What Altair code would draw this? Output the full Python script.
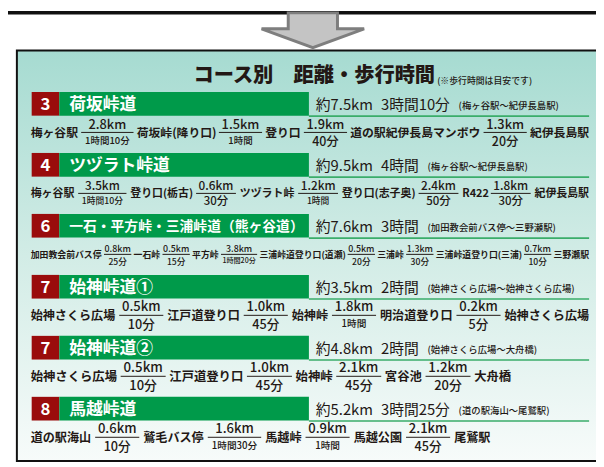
import altair as alt
import pandas as pd

# ---------------- data ----------------
title_main = "コース別　距離・歩行時間"
title_note = "(※歩行時間は目安です)"

course_no = ["3", "4", "6", "7", "7", "8"]
course_name = ["荷坂峠道", "ツヅラト峠道", "一石・平方峠・三浦峠道（熊ヶ谷道）",
               "始神峠道①", "始神峠道②", "馬越峠道"]
course_dist = ["約7.5km", "約9.5km", "約7.6km", "約3.5km", "約4.8km", "約5.2km"]
course_time = ["3時間10分", "4時間", "3時間", "2時間", "2時間", "3時間25分"]
course_route = ["(梅ヶ谷駅〜紀伊長島駅)", "(梅ヶ谷駅〜紀伊長島駅)",
                "(加田教会前バス停〜三野瀬駅)", "(始神さくら広場〜始神さくら広場)",
                "(始神さくら広場〜大舟橋)", "(道の駅海山〜尾鷲駅)"]

stops = [
    ["梅ヶ谷駅", "荷坂峠(降り口)", "登り口", "道の駅紀伊長島マンボウ", "紀伊長島駅"],
    ["梅ヶ谷駅", "登り口(栃古)", "ツヅラト峠", "登り口(志子奥)", "R422", "紀伊長島駅"],
    ["加田教会前バス停", "一石峠", "平方峠", "三浦峠道登り口(道瀬)", "三浦峠",
     "三浦峠道登り口(三浦)", "三野瀬駅"],
    ["始神さくら広場", "江戸道登り口", "始神峠", "明治道登り口", "始神さくら広場"],
    ["始神さくら広場", "江戸道登り口", "始神峠", "宮谷池", "大舟橋"],
    ["道の駅海山", "鷲毛バス停", "馬越峠", "馬越公園", "尾鷲駅"],
]
seg_km = [
    ["2.8km", "1.5km", "1.9km", "1.3km"],
    ["3.5km", "0.6km", "1.2km", "2.4km", "1.8km"],
    ["0.8km", "0.5km", "3.8km", "0.5km", "1.3km", "0.7km"],
    ["0.5km", "1.0km", "1.8km", "0.2km"],
    ["0.5km", "1.0km", "2.1km", "1.2km"],
    ["0.6km", "1.6km", "0.9km", "2.1km"],
]
seg_time = [
    ["1時間10分", "1時間", "40分", "20分"],
    ["1時間10分", "30分", "1時間", "50分", "30分"],
    ["25分", "15分", "1時間20分", "20分", "30分", "10分"],
    ["10分", "45分", "1時間", "5分"],
    ["10分", "45分", "45分", "20分"],
    ["10分", "1時間30分", "1時間", "45分"],
]

# ---------------- layout & style ----------------
W, H, M = 604, 467, 8
FONT = "Noto Sans CJK JP"
INK = "#231815"
RED = "#9a0c0c"
GREEN = "#009a4a"
LINE_GREEN = "#3aad6a"

BOX = dict(x=17, x2=640, y=48, y2=464)
HEAD_Y0, HEAD_STEP = 102, 61.8
BADGE_X, BADGE_X2, BAR_X2, BAR_H = 32, 60, 313, 24
RULE_X2 = 597
NAME_X = 70
DIST_X, TIME_X = 320, 386
ROW_LEFT = 31
ROW_RIGHT = [597, 597, 597, 597, 518, 497]
ROW_FS = [12, 12, 9, 12.5, 12.5, 12.5]
NUM_SCALE = [1.08, 1.08, 1.0, 1.08, 1.08, 1.08]
FRAC_PAD = [0.7, 0.7, 0.35, 0.7, 0.7, 0.7]
MIN_GAP = [3, 3, 1.5, 3, 3, 3]


def em(c):
    if c.isdigit():
        return 0.55
    if c == ".":
        return 0.27
    if c == "k":
        return 0.52
    if c == "m":
        return 0.84
    if c == "R":
        return 0.62
    if c in "()":
        return 0.34
    if ord(c) < 128:
        return 0.55
    return 1.0


def tw(s, fs):
    return sum(em(c) for c in s) * fs


xs = alt.Scale(domain=[M, W], nice=False, zero=False)
ys = alt.Scale(domain=[M, H], nice=False, zero=False, reverse=True)


def X(f):
    return alt.X(f, type="quantitative", scale=xs, axis=None)


def Y(f):
    return alt.Y(f, type="quantitative", scale=ys, axis=None)


def row_items(i, fs):
    items = []
    for j, s in enumerate(stops[i]):
        items.append(("n", s, tw(s, fs), fs))
        if j < len(seg_km[i]):
            k, t = seg_km[i][j], seg_time[i][j]
            nfs = fs * NUM_SCALE[i]
            dfs = fs * 0.8 if "時間" in t else fs * (NUM_SCALE[i] - 0.03)
            fw = max(tw(k, nfs), tw(t, dfs)) + FRAC_PAD[i] * fs
            items.append(("f", (k, t, nfs, dfs), fw, fs))
    return items


# ---------------- tables ----------------
heads = []
names = []
fracs = []
for i in range(len(course_no)):
    hy = HEAD_Y0 + HEAD_STEP * i
    tfs = min(17.0, (BAR_X2 - 5 - NAME_X) / (tw(course_name[i], 1)))
    heads.append(dict(
        no=course_no[i], name=course_name[i], dist=course_dist[i],
        time=course_time[i], route=course_route[i],
        y=hy, y1=hy - BAR_H / 2, y2=hy + BAR_H / 2, yr=hy + BAR_H / 2 + 0.5,
        bx=BADGE_X, bx2=BADGE_X2, gx2=BAR_X2, rx2=RULE_X2,
        nx=(BADGE_X + BADGE_X2) / 2, tx=NAME_X, tfs=tfs,
        dx=DIST_X, tmx=TIME_X, rtx=TIME_X + tw(course_time[i], 15) + 9,
    ))
    fs = ROW_FS[i]
    while True:
        items = row_items(i, fs)
        total = sum(it[2] for it in items)
        gap = (ROW_RIGHT[i] - ROW_LEFT - total) / (len(items) - 1)
        if gap >= MIN_GAP[i]:
            break
        fs *= 0.98
    ly = hy + 29
    x = ROW_LEFT
    for kind, val, w, f in items:
        if kind == "n":
            names.append(dict(x=x, y=ly + 1, text=val, fs=f))
        else:
            k, t, nfs, dfs = val
            fracs.append(dict(x1=x, x2=x + w, xc=x + w / 2, y=ly,
                              yn=ly - 0.6 * nfs, yd=ly + 0.62 * dfs + 2 + 0.25 * (f - dfs),
                              num=k, den=t, nfs=nfs, dfs=dfs))
        x += w + gap

heads = pd.DataFrame(heads)
names = pd.DataFrame(names)
fracs = pd.DataFrame(fracs)

# ---------------- marks ----------------
grad = alt.Gradient(
    gradient="linear", x1=0, x2=0, y1=0, y2=1,
    stops=[alt.GradientStop(color="#a6dbd1", offset=0),
           alt.GradientStop(color="#d2ece6", offset=0.5),
           alt.GradientStop(color="#f7fbfa", offset=1)],
)

box = alt.Chart(pd.DataFrame([BOX])).mark_rect(
    fill=grad, stroke="#111111", strokeWidth=2
).encode(x=X("x"), x2="x2", y=Y("y"), y2="y2")

top_bar = alt.Chart(pd.DataFrame([dict(x=M, x2=W, y=M, y2=M + 3.5)])).mark_rect(
    color="#111111"
).encode(x=X("x"), x2="x2", y=Y("y"), y2="y2")

ARROW = "M-0.48,-0.34L0.48,-0.34L0.48,-0.03L1,-0.03L0,0.34L-1,-0.03L-0.48,-0.03Z"
arrow = alt.Chart(pd.DataFrame([dict(x=317, y=27.5)])).mark_point(
    shape=ARROW, size=104 ** 2, filled=True, fill="#c4c4c4",
    stroke="#7e7e7e", strokeWidth=3, opacity=1
).encode(x=X("x"), y=Y("y"))

title = alt.Chart(pd.DataFrame([dict(x=196, y=74, t=title_main)])).mark_text(
    align="left", baseline="middle", font=FONT, fontSize=20.5, fontWeight=900, color=INK
).encode(x=X("x"), y=Y("y"), text="t:N")

note = alt.Chart(pd.DataFrame([dict(x=443, y=79, t=title_note)])).mark_text(
    align="left", baseline="middle", font=FONT, fontSize=9, fontWeight=500, color=INK
).encode(x=X("x"), y=Y("y"), text="t:N")

hbase = alt.Chart(heads)
badge = hbase.mark_rect(color=RED).encode(x=X("bx"), x2="bx2", y=Y("y1"), y2="y2")
bar = hbase.mark_rect(color=GREEN).encode(x=X("bx2"), x2="gx2", y=Y("y1"), y2="y2")
uline = hbase.mark_rule(color=LINE_GREEN, strokeWidth=1.6).encode(x=X("gx2"), x2="rx2", y=Y("yr"))
no_t = hbase.mark_text(align="center", baseline="middle", font=FONT, fontSize=17,
                       fontWeight="bold", color="white", dy=1).encode(x=X("nx"), y=Y("y"), text="no:N")
name_t = hbase.mark_text(align="left", baseline="middle", font=FONT, fontWeight="bold",
                         color="white", dy=1).encode(
    x=X("tx"), y=Y("y"), text="name:N", size=alt.Size("tfs:Q", scale=None))
dist_t = hbase.mark_text(align="left", baseline="middle", font=FONT, fontSize=15,
                         color=INK, dy=1).encode(x=X("dx"), y=Y("y"), text="dist:N")
time_t = hbase.mark_text(align="left", baseline="middle", font=FONT, fontSize=15,
                         color=INK, dy=1).encode(x=X("tmx"), y=Y("y"), text="time:N")
route_t = hbase.mark_text(align="left", baseline="middle", font=FONT, fontSize=9.5,
                          fontWeight=500, color=INK, dy=2).encode(x=X("rtx"), y=Y("y"), text="route:N")

stop_t = alt.Chart(names).mark_text(
    align="left", baseline="middle", font=FONT, fontWeight=600, color=INK
).encode(x=X("x"), y=Y("y"), text="text:N", size=alt.Size("fs:Q", scale=None))

fbase = alt.Chart(fracs)
fline = fbase.mark_rule(color=INK, strokeWidth=1).encode(x=X("x1"), x2="x2", y=Y("y"))
num_t = fbase.mark_text(align="center", baseline="middle", font=FONT, fontWeight=500,
                        color=INK).encode(x=X("xc"), y=Y("yn"), text="num:N",
                                          size=alt.Size("nfs:Q", scale=None))
den_t = fbase.mark_text(align="center", baseline="middle", font=FONT, fontWeight=500,
                        color=INK).encode(x=X("xc"), y=Y("yd"), text="den:N",
                                          size=alt.Size("dfs:Q", scale=None))

chart = alt.layer(
    box, top_bar, arrow, title, note,
    badge, bar, uline, no_t, name_t, dist_t, time_t, route_t,
    stop_t, fline, num_t, den_t,
).properties(
    width=W - M, height=H - M, padding=0, autosize="none"
).configure_view(stroke=None)

chart.save("out.html", embed_options={"renderer": "svg", "actions": False})
